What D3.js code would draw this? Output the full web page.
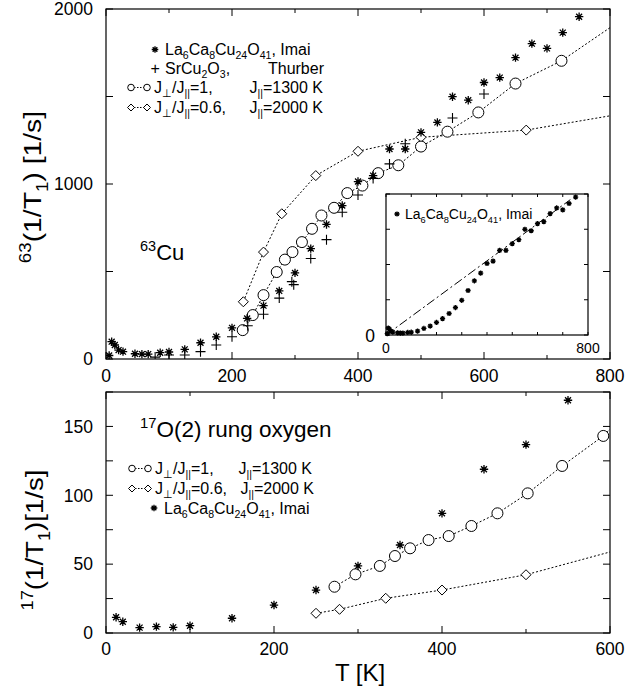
<!DOCTYPE html>
<html>
<head>
<meta charset="utf-8">
<script src="https://cdn.jsdelivr.net/npm/d3@7"></script>
<style>
  body { margin: 0; background: #fff; }
  svg { display: block; font-family: "Liberation Sans", Arial, sans-serif; }
</style>
</head>
<body>
<div id="chart"></div>
<script>
// ---- 63Cu panel ----
const cuImaiT = [5, 9, 14, 20, 27, 46, 57, 67, 86, 100, 125, 150, 175, 200, 224, 250, 275, 300, 325, 350, 375, 400, 424, 450, 475, 500, 526, 550, 575, 600, 625, 650, 676, 700, 725, 751];
const cuImaiV = [20, 99, 80, 51, 42, 30, 28, 28, 36, 40, 55, 93, 127, 178, 232, 305, 389, 492, 631, 769, 877, 1014, 1048, 1200, 1200, 1295, 1352, 1499, 1479, 1580, 1608, 1722, 1802, 1775, 1865, 1956];
const cuThurberT = [78, 100, 125, 150, 175, 200, 225, 250, 275, 295, 298, 325, 350, 375, 400, 424, 450, 475, 550, 600];
const cuThurberV = [11, 23, 23, 42, 80, 127, 190, 256, 348, 442, 425, 574, 682, 839, 937, 1032, 1115, 1230, 1377, 1514];
const cuJ1T = [217, 233, 250, 271, 284, 296, 311, 327, 342, 362, 383, 407, 432, 464, 500, 542, 591, 650, 723, 830];
const cuJ1V = [165, 251, 365, 497, 568, 611, 668, 744, 820, 864, 948, 991, 1062, 1107, 1214, 1299, 1409, 1574, 1704, 1967];
const cuJ06T = [218, 250, 279, 333, 400, 500, 667, 830];
const cuJ06V = [327, 611, 830, 1048, 1187, 1267, 1308, 1408];
// dash-dot guide line in the inset
const insetLineT = [0, 730];
const insetLineV = [0, 1920];

// ---- 17O panel ----
const oImaiT = [12, 20, 40, 60, 80, 100, 150, 200, 250, 300, 350, 400, 450, 500, 550];
const oImaiV = [11.4, 8.2, 3.9, 4.6, 4.1, 5.3, 10.7, 20.3, 31.2, 48.7, 63.9, 86.9, 118.9, 136.8, 169];
const oJ1T = [272, 297, 326, 344, 362, 384, 408, 435, 466, 502, 543, 592, 630];
const oJ1V = [33.6, 42.6, 48.7, 55.9, 61.5, 67.5, 70.4, 77.7, 86.9, 101.4, 121.3, 143.1, 166];
const oJ06T = [250, 278, 333, 400, 500, 630];
const oJ06V = [14.3, 17.2, 25.2, 31.2, 42.3, 63.8];

// ---- ticks ----
const cuXTicks = [0, 200, 400, 600, 800];
const cuYTicks = [0, 1000, 2000];
const oXTicks = [0, 200, 400, 600];
const oYTicks = [0, 50, 100, 150];

const W = 626, H = 690;
const svg = d3.select('#chart').append('svg').attr('width', W).attr('height', H);

const xTop = d3.scaleLinear().domain([0, 800]).range([106, 610]);
const yTop = d3.scaleLinear().domain([0, 2000]).range([359, 9]);
const xIn = d3.scaleLinear().domain([0, 800]).range([386, 588]);
const yIn = d3.scaleLinear().domain([0, 2000]).range([335, 194]);
const xBot = d3.scaleLinear().domain([0, 600]).range([106, 610]);
const yBot = d3.scaleLinear().domain([0, 175]).range([633, 392]);

// text with _{sub} and ^{sup}
function rich(g, x, y, str, size) {
  const t = g.append('text').attr('x', x).attr('y', y).attr('font-size', size);
  const re = /([_^])\{([^}]*)\}|([^_^]+)/g;
  let m, cur = 0;
  while ((m = re.exec(str))) {
    let target = 0, fs = size, txt = m[3];
    if (m[1] === '_') { target = size * 0.28; fs = size * 0.66; txt = m[2]; }
    if (m[1] === '^') { target = -size * 0.4; fs = size * 0.66; txt = m[2]; }
    t.append('tspan').attr('dy', target - cur).attr('font-size', fs).text(txt);
    cur = target;
  }
  return t;
}

function starPath(cx, cy, r) {
  const a = r * 0.7071;
  return `M${cx - r},${cy}L${cx + r},${cy}M${cx},${cy - r}L${cx},${cy + r}` +
         `M${cx - a},${cy - a}L${cx + a},${cy + a}M${cx - a},${cy + a}L${cx + a},${cy - a}`;
}

function drawStars(g, T, V, x, y, r) {
  const pts = d3.zip(T, V);
  g.append('g').selectAll('path').data(pts).join('path')
    .attr('d', d => starPath(x(d[0]), y(d[1]), r))
    .attr('stroke', '#000').attr('stroke-width', 1.3).attr('fill', 'none');
  g.append('g').selectAll('circle').data(pts).join('circle')
    .attr('cx', d => x(d[0])).attr('cy', d => y(d[1])).attr('r', r * 0.4).attr('fill', '#000');
}

function drawPlus(g, T, V, x, y, r) {
  g.append('g').selectAll('path').data(d3.zip(T, V)).join('path')
    .attr('d', d => { const cx = x(d[0]), cy = y(d[1]);
      return `M${cx - r},${cy}L${cx + r},${cy}M${cx},${cy - r}L${cx},${cy + r}`; })
    .attr('stroke', '#000').attr('stroke-width', 1.1);
}

function drawLine(g, T, V, x, y) {
  g.append('path').datum(d3.zip(T, V))
    .attr('d', d3.line().x(d => x(d[0])).y(d => y(d[1])))
    .attr('fill', 'none').attr('stroke', '#000').attr('stroke-width', 1)
    .attr('stroke-dasharray', '2,2');
}

function drawCircles(g, T, V, x, y, r) {
  g.append('g').selectAll('circle').data(d3.zip(T, V)).join('circle')
    .attr('cx', d => x(d[0])).attr('cy', d => y(d[1])).attr('r', r)
    .attr('fill', '#fff').attr('stroke', '#000').attr('stroke-width', 1);
}

function drawDiamonds(g, T, V, x, y, r) {
  g.append('g').selectAll('path').data(d3.zip(T, V)).join('path')
    .attr('d', d => { const cx = x(d[0]), cy = y(d[1]);
      return `M${cx},${cy - r}L${cx + r},${cy}L${cx},${cy + r}L${cx - r},${cy}Z`; })
    .attr('fill', '#fff').attr('stroke', '#000').attr('stroke-width', 1);
}

// frame with inward ticks on all four sides
function frame(x, y, xStep, yStep, xLabels, yLabels, opt) {
  const g = svg.append('g');
  const [x0, x1] = x.range(), [y0, y1] = y.range();
  const xs = d3.range(x.domain()[0], x.domain()[1] + 1e-9, xStep);
  const ys = d3.range(y.domain()[0], y.domain()[1] + 1e-9, yStep);
  const major = opt.major, minor = opt.minor;
  const xLen = v => (xLabels.includes(v) ? major : minor);
  const yLen = v => (opt.yAllMajor || yLabels.includes(v) ? major : minor);

  xs.forEach(v => {
    g.append('line').attr('x1', x(v)).attr('x2', x(v)).attr('y1', y0).attr('y2', y0 - xLen(v));
    g.append('line').attr('x1', x(v)).attr('x2', x(v)).attr('y1', y1).attr('y2', y1 + xLen(v));
  });
  ys.forEach(v => {
    g.append('line').attr('x1', x0).attr('x2', x0 + yLen(v)).attr('y1', y(v)).attr('y2', y(v));
    g.append('line').attr('x1', x1).attr('x2', x1 - yLen(v)).attr('y1', y(v)).attr('y2', y(v));
  });
  g.selectAll('line').attr('stroke', '#000').attr('stroke-width', 1);

  g.append('rect').attr('x', x0).attr('y', y1).attr('width', x1 - x0).attr('height', y0 - y1)
    .attr('fill', 'none').attr('stroke', '#000').attr('stroke-width', 1.2);

  xLabels.forEach(v => {
    g.append('text').attr('x', x(v)).attr('y', y0 + opt.xLabelDy).attr('text-anchor', 'middle')
      .attr('font-size', opt.fs).text(v);
  });
  yLabels.forEach(v => {
    g.append('text').attr('x', x0 - opt.yLabelDx).attr('y', y(v) + opt.fs * 0.36)
      .attr('text-anchor', 'end').attr('font-size', opt.fs).text(v);
  });
  return g;
}

// clip paths
const defs = svg.append('defs');
function clip(id, x, y) {
  defs.append('clipPath').attr('id', id).append('rect')
    .attr('x', x.range()[0]).attr('y', y.range()[1])
    .attr('width', x.range()[1] - x.range()[0]).attr('height', y.range()[0] - y.range()[1]);
}
clip('cTop', xTop, yTop);
clip('cBot', xBot, yBot);

const LF = 16; // legend font size

// ===== top panel =====
frame(xTop, yTop, 100, 500, cuXTicks, cuYTicks,
  { major: 7, minor: 4, yAllMajor: true, fs: 17.5, xLabelDy: 23, yLabelDx: 13 });

const topG = svg.append('g').attr('clip-path', 'url(#cTop)');
drawLine(topG, cuJ06T, cuJ06V, xTop, yTop);
drawLine(topG, cuJ1T, cuJ1V, xTop, yTop);
drawDiamonds(topG, cuJ06T, cuJ06V, xTop, yTop, 5);
drawCircles(topG, cuJ1T, cuJ1V, xTop, yTop, 5.5);
drawPlus(topG, cuThurberT, cuThurberV, xTop, yTop, 5);
drawStars(topG, cuImaiT, cuImaiV, xTop, yTop, 4.2);

// legend (top)
const lg = svg.append('g');
drawStars(lg, [0], [0], v => 155, v => 49.5, 3.3);
lg.append('text').attr('x', 150.5).attr('y', 74).attr('font-size', LF).text('+');
rich(lg, 165, 55, 'La_{6}Ca_{8}Cu_{24}O_{41}, Imai', LF);
rich(lg, 165, 74, 'SrCu_{2}O_{3},', LF);
lg.append('text').attr('x', 324).attr('y', 74).attr('font-size', LF).attr('text-anchor', 'end').text('Thurber');
[[87.5, 'c'], [107.5, 'd']].forEach(([yy, k]) => {
  lg.append('line').attr('x1', 131).attr('x2', 147).attr('y1', yy).attr('y2', yy)
    .attr('stroke', '#000').attr('stroke-dasharray', '1.5,1.5');
  if (k === 'c') drawCircles(lg, [0, 1], [0, 0], v => 131 + v * 16, v => yy, 3.3);
  else drawDiamonds(lg, [0, 1], [0, 0], v => 131 + v * 16, v => yy, 3.5);
});
rich(lg, 154, 93, 'J_{⊥}/J_{||}=1,', LF);
rich(lg, 323, 93, 'J_{||}=1300 K', LF).attr('text-anchor', 'end');
rich(lg, 154, 113, 'J_{⊥}/J_{||}=0.6,', LF);
rich(lg, 323, 113, 'J_{||}=2000 K', LF).attr('text-anchor', 'end');

rich(svg, 140, 260, '^{63}Cu', 22);

// inset
svg.append('rect').attr('x', 386).attr('y', 194).attr('width', 202).attr('height', 141).attr('fill', '#fff');
const inFrame = frame(xIn, yIn, 100, 500, [], [], { major: 4, minor: 3, yAllMajor: true, fs: 14, xLabelDy: 17, yLabelDx: 10 });
inFrame.append('text').attr('x', 386).attr('y', 353).attr('text-anchor', 'middle').attr('font-size', 14).text('0');
inFrame.append('text').attr('x', 588).attr('y', 353).attr('text-anchor', 'middle').attr('font-size', 14).text('800');
inFrame.append('text').attr('x', 375).attr('y', 342).attr('text-anchor', 'end').attr('font-size', 17.5).text('0');
const ins = svg.append('g');
ins.append('path').datum(d3.zip(insetLineT, insetLineV))
  .attr('d', d3.line().x(d => xIn(d[0])).y(d => yIn(d[1])))
  .attr('stroke', '#000').attr('stroke-width', 1).attr('fill', 'none')
  .attr('stroke-dasharray', '9,3,2,3');
drawStars(ins, cuImaiT, cuImaiV, xIn, yIn, 2.6);
drawStars(ins, [0], [0], v => 397, v => 214, 2.6);
rich(ins, 405, 219, 'La_{6}Ca_{8}Cu_{24}O_{41}, Imai', 14);

// y title top (stretched along its length like the reference)
rich(svg, 0, 0, '^{63}(1/T_{1}) [1/s]', 24)
  .attr('text-anchor', 'middle').attr('transform', 'translate(41,187) rotate(-90) scale(1.18,1)');

// ===== bottom panel =====
frame(xBot, yBot, 100, 25, oXTicks, oYTicks,
  { major: 7, minor: 4, yAllMajor: true, fs: 17.5, xLabelDy: 22, yLabelDx: 13 });

const botG = svg.append('g').attr('clip-path', 'url(#cBot)');
drawLine(botG, oJ06T, oJ06V, xBot, yBot);
drawLine(botG, oJ1T, oJ1V, xBot, yBot);
drawDiamonds(botG, oJ06T, oJ06V, xBot, yBot, 5);
drawCircles(botG, oJ1T, oJ1V, xBot, yBot, 5.5);
drawStars(botG, oImaiT, oImaiV, xBot, yBot, 4.2);

rich(svg, 140, 437, '^{17}O(2) rung oxygen', 22.5);

const lb = svg.append('g');
[[468.5, 'c'], [488.5, 'd']].forEach(([yy, k]) => {
  lb.append('line').attr('x1', 132).attr('x2', 148).attr('y1', yy).attr('y2', yy)
    .attr('stroke', '#000').attr('stroke-dasharray', '1.5,1.5');
  if (k === 'c') drawCircles(lb, [0, 1], [0, 0], v => 132 + v * 16, v => yy, 3.3);
  else drawDiamonds(lb, [0, 1], [0, 0], v => 132 + v * 16, v => yy, 3.5);
});
rich(lb, 155, 474, 'J_{⊥}/J_{||}=1,', LF);
rich(lb, 312, 474, 'J_{||}=1300 K', LF).attr('text-anchor', 'end');
rich(lb, 155, 494, 'J_{⊥}/J_{||}=0.6,', LF);
rich(lb, 314, 494, 'J_{||}=2000 K', LF).attr('text-anchor', 'end');
drawStars(lb, [0], [0], v => 154, v => 508, 3.3);
rich(lb, 164, 514, 'La_{6}Ca_{8}Cu_{24}O_{41}, Imai', LF);

rich(svg, 0, 0, '^{17}(1/T_{1})[1/s]', 24)
  .attr('text-anchor', 'middle').attr('transform', 'translate(43,540) rotate(-90) scale(1.15,1)');

svg.append('text').attr('x', 360).attr('y', 681).attr('text-anchor', 'middle')
  .attr('font-size', 24).text('T [K]');
</script>
</body>
</html>
